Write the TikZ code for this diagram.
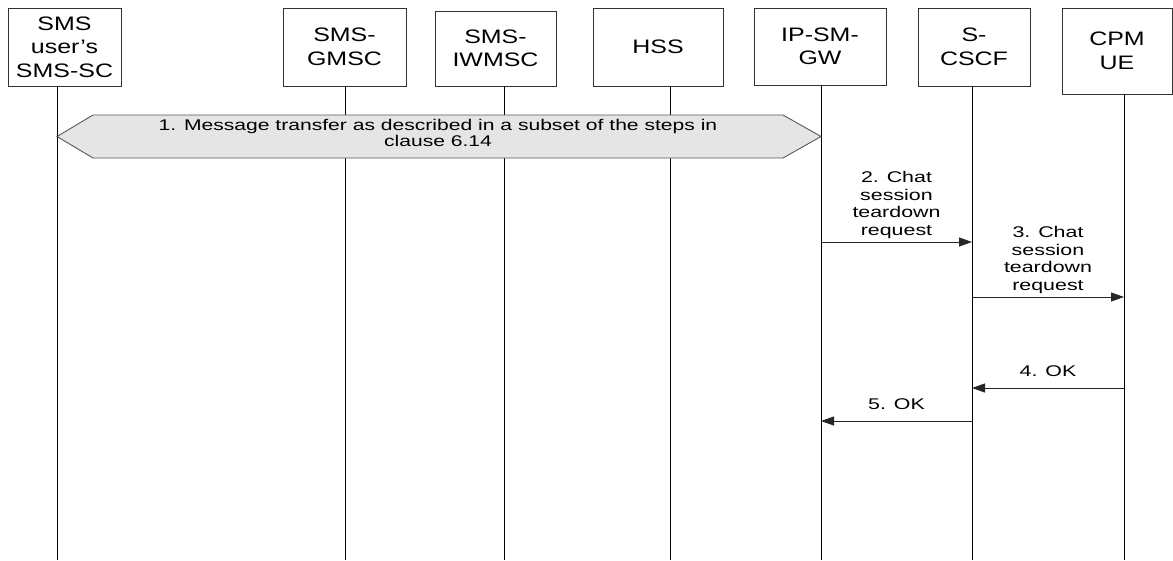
\documentclass[tikz,border=0pt]{standalone}
\usepackage{fontspec}
\setmainfont{Liberation Sans}
\newfontfamily\hdrfont[FakeStretch=1.28]{Liberation Sans}
\newfontfamily\lblfont[FakeStretch=1.38]{Liberation Sans}
\newfontfamily\hexfont[FakeStretch=1.36]{Liberation Sans}
\usetikzlibrary{arrows.meta}
\begin{document}
\begin{tikzpicture}[x=1pt,y=-1pt,
  entity/.style={draw=black!80, line width=0.9pt, align=center, inner sep=0pt,
    font=\hdrfont\fontsize{19.5}{23.5}\selectfont},
  life/.style={draw=black, line width=0.9pt},
  msg/.style={draw=black!85, line width=0.9pt, -{Triangle[length=13pt,width=9pt]}},
  lbl/.style={align=center, inner sep=0pt, font=\lblfont\fontsize{15.5}{17.5}\selectfont},
  hexbox/.style={draw=black!65, fill=black!10, line width=0.9pt},
  hexlbl/.style={align=center, inner sep=0pt, font=\hexfont\fontsize{15.5}{11.7}\selectfont},
]
\useasboundingbox (0,0) rectangle (1173,560);
\fill[white] (0,0) rectangle (1173,560);

% entity boxes
\node[entity, minimum width=113pt, minimum height=78pt] (b1) at (64.5,47) {SMS\\user’s\\SMS-SC};
\node[entity, minimum width=123pt, minimum height=78pt] (b2) at (344.5,47) {SMS-\\GMSC};
\node[entity, minimum width=121pt, minimum height=75pt] (b3) at (495.5,48.5) {SMS-\\IWMSC};
\node[entity, minimum width=130pt, minimum height=78pt] (b4) at (658,47) {HSS};
\node[entity, minimum width=132pt, minimum height=77pt] (b5) at (820,46.5) {IP-SM-\\GW};
\node[entity, minimum width=112pt, minimum height=78pt] (b6) at (974,47) {S-\\CSCF};
\node[entity, minimum width=110pt, minimum height=86pt] (b7) at (1117,51) {CPM\\UE};

% lifeline ends
\coordinate (e1) at (57,560);
\coordinate (e2) at (345,560);
\coordinate (e3) at (504,560);
\coordinate (e4) at (670,560);
\coordinate (e5) at (821,560);
\coordinate (e6) at (972,560);
\coordinate (e7) at (1124,560);

\foreach \i in {1,...,7} {
  \draw[life] (b\i.south -| e\i) -- (e\i);
}

% step 1 hexagon
\draw[hexbox] (57,136.5) -- (93,115) -- (783,115) -- (821,136.5) -- (783,158) -- (93,158) -- cycle;
\node[hexlbl] (t1) at (438,133) {1. Message transfer as described in a subset of the steps in\\clause 6.14};

% messages
\coordinate (y2) at (0,242);
\coordinate (y3) at (0,297);
\coordinate (y4) at (0,388);
\coordinate (y5) at (0,421);

\draw[msg] (e5 |- y2) -- node[lbl, above=3pt] (m2) {2. Chat\\session\\teardown\\request} (e6 |- y2);
\draw[msg] (e6 |- y3) -- node[lbl, above=3pt] (m3) {3. Chat\\session\\teardown\\request} (e7 |- y3);
\draw[msg] (e7 |- y4) -- node[lbl, above=11pt] (m4) {4. OK} (e6 |- y4);
\draw[msg] (e6 |- y5) -- node[lbl, above=11pt] (m5) {5. OK} (e5 |- y5);
\end{tikzpicture}
\end{document}
